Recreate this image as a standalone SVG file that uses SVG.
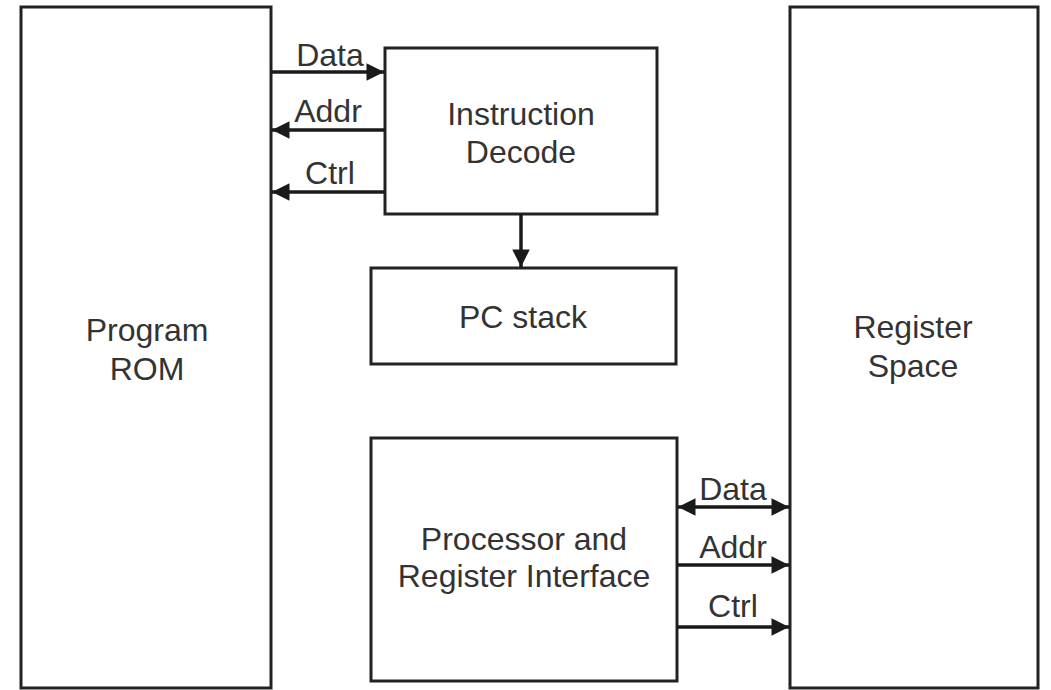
<svg xmlns="http://www.w3.org/2000/svg" width="1051" height="690" viewBox="0 0 1051 690">
<style>
.box{fill:#fff;stroke:#222;stroke-width:3}
.t{font-family:"Liberation Sans",Arial,sans-serif;font-size:32px;fill:#333;text-anchor:middle}
.c{stroke:#1a1a1a;stroke-width:3.5;fill:none}
</style>
<defs>
<marker id="ah" viewBox="0 0 10 10" refX="10" refY="5" markerWidth="5.5" markerHeight="5" orient="auto-start-reverse" markerUnits="strokeWidth">
<path d="M0,0 L10,5 L0,10 z" fill="#1a1a1a"/>
</marker>
</defs>
<rect width="1051" height="690" fill="#fff"/>
<g id="program-rom"><rect class="box" x="21" y="7" width="250" height="681"/><text class="t" x="147" y="341">Program</text><text class="t" x="147" y="380">ROM</text></g>
<g id="register-space"><rect class="box" x="790" y="7" width="248" height="681"/><text class="t" x="913" y="338">Register</text><text class="t" x="913" y="377">Space</text></g>
<g id="instruction-decode"><rect class="box" x="385" y="48" width="272" height="166"/><text class="t" x="521" y="125">Instruction</text><text class="t" x="521" y="163">Decode</text></g>
<g id="pc-stack"><rect class="box" x="371" y="268" width="305" height="96"/><text class="t" x="523" y="328">PC stack</text></g>
<g id="processor"><rect class="box" x="371" y="438" width="306" height="243"/><text class="t" x="524" y="550">Processor and</text><text class="t" x="524" y="587">Register Interface</text></g>
<g id="connectors">
<line class="c" x1="271" y1="72" x2="384" y2="72" marker-end="url(#ah)"/>
<line class="c" x1="385" y1="130" x2="272" y2="130" marker-end="url(#ah)"/>
<line class="c" x1="385" y1="192" x2="272" y2="192" marker-end="url(#ah)"/>
<line class="c" x1="521" y1="214" x2="521" y2="267" marker-end="url(#ah)"/>
<line class="c" x1="678" y1="507" x2="789" y2="507" marker-start="url(#ah)" marker-end="url(#ah)"/>
<line class="c" x1="677" y1="565" x2="789" y2="565" marker-end="url(#ah)"/>
<line class="c" x1="677" y1="627" x2="789" y2="627" marker-end="url(#ah)"/>
<text class="t" x="330" y="66">Data</text>
<text class="t" x="328" y="122">Addr</text>
<text class="t" x="330" y="184">Ctrl</text>
<text class="t" x="733" y="500">Data</text>
<text class="t" x="733" y="558">Addr</text>
<text class="t" x="733" y="617">Ctrl</text>
</g>
</svg>
